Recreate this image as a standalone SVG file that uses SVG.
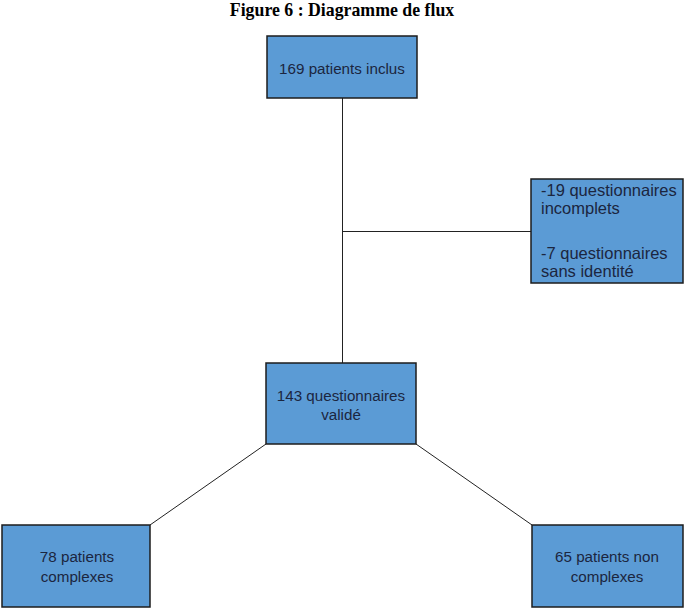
<svg xmlns="http://www.w3.org/2000/svg" width="686" height="612" viewBox="0 0 686 612">
<style>
.box{fill:#5B9BD5;stroke:#1c1c1c;stroke-width:1.5}
.t{font-family:"Liberation Sans",Arial,sans-serif;font-size:15.2px;fill:#1b2640}
.r{font-size:16.5px}
.c{text-anchor:middle}
.ln{stroke:#222;stroke-width:1;fill:none}
.title{font-family:"Liberation Serif","Times New Roman",serif;font-weight:bold;font-size:17.8px;fill:#000;text-anchor:middle}
</style>
<rect width="686" height="612" fill="#fff"/>
<text class="title" x="342" y="16">Figure 6 : Diagramme de flux</text>
<g id="connectors">
<line class="ln" x1="342.5" y1="98" x2="342.5" y2="363"/>
<line class="ln" x1="342.5" y1="231.5" x2="531" y2="231.5"/>
<line class="ln" x1="266" y1="444" x2="150" y2="525"/>
<line class="ln" x1="416" y1="444" x2="532" y2="525"/>
</g>
<g id="n1">
<rect class="box" x="267" y="36" width="150" height="62"/>
<text class="t c" x="342" y="74">169 patients inclus</text>
</g>
<g id="n2">
<rect class="box" x="531" y="179" width="152" height="104"/>
<text class="t r" x="541" y="196">-19 questionnaires</text>
<text class="t r" x="541" y="214">incomplets</text>
<text class="t r" x="541" y="259">-7 questionnaires</text>
<text class="t r" x="541" y="277">sans identité</text>
</g>
<g id="n3">
<rect class="box" x="266" y="363" width="150" height="81"/>
<text class="t c" x="341" y="401">143 questionnaires</text>
<text class="t c" x="341" y="420">validé</text>
</g>
<g id="n4">
<rect class="box" x="2" y="525" width="148" height="82"/>
<text class="t c" x="77" y="562">78 patients</text>
<text class="t c" x="77" y="582">complexes</text>
</g>
<g id="n5">
<rect class="box" x="532" y="525" width="151" height="82"/>
<text class="t c" x="607" y="562">65 patients non</text>
<text class="t c" x="607" y="582">complexes</text>
</g>
</svg>
